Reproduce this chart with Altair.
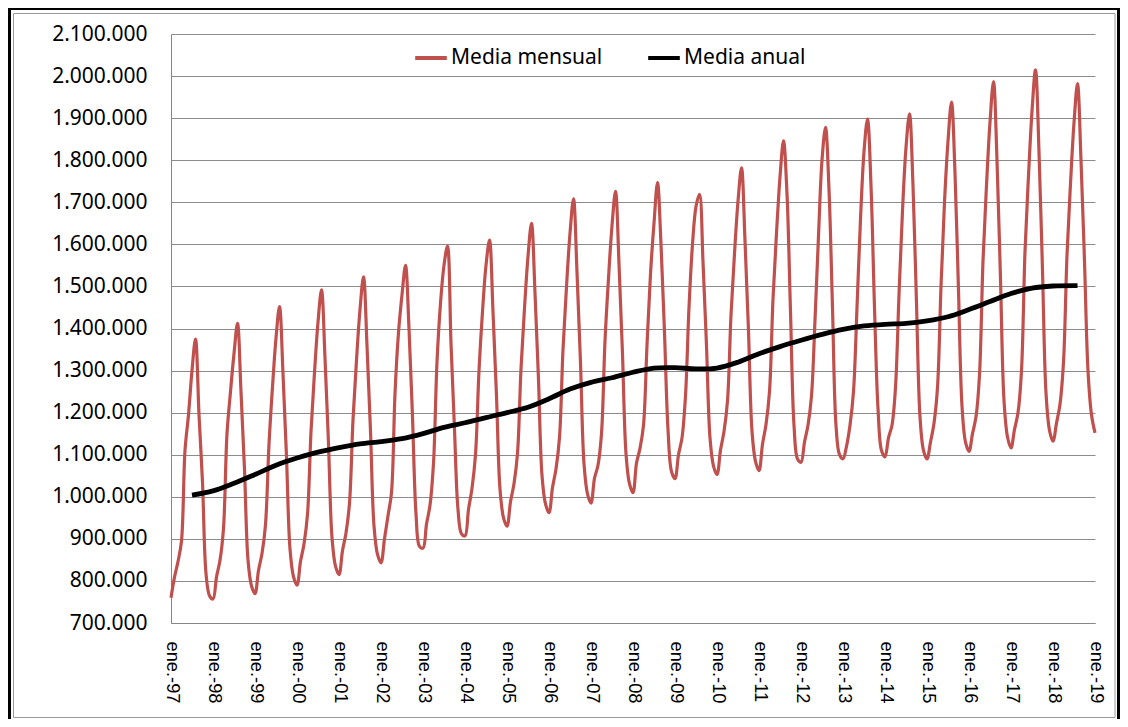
import altair as alt
import pandas as pd

# Monthly values (thousands), Jan-1997 .. Jan-2019, one row per year
media_mensual = [
    760, 809, 846, 895, 1110, 1195, 1300, 1375, 1195, 1035, 818, 765,      # 1997
    757, 809, 849, 925, 1150, 1250, 1340, 1412, 1250, 1065, 850, 788,      # 1998
    770, 825, 865, 934, 1125, 1261, 1377, 1452, 1293, 1095, 876, 810,      # 1999
    790, 846, 888, 958, 1155, 1295, 1415, 1492, 1330, 1126, 903, 835,      # 2000
    815, 872, 914, 985, 1183, 1325, 1445, 1523, 1360, 1156, 931, 863,      # 2001
    843, 900, 955, 1010, 1245, 1390, 1480, 1550, 1400, 1190, 960, 882,     # 2002
    878, 935, 980, 1080, 1320, 1460, 1550, 1596, 1365, 1160, 970, 912,     # 2003
    907, 970, 1020, 1100, 1300, 1440, 1550, 1610, 1440, 1240, 1018, 950,   # 2004
    930, 988, 1031, 1103, 1304, 1448, 1571, 1650, 1485, 1278, 1051, 983,   # 2005
    962, 1022, 1066, 1141, 1350, 1499, 1626, 1708, 1534, 1318, 1079, 1007, # 2006
    985, 1044, 1075, 1150, 1370, 1519, 1644, 1726, 1554, 1339, 1103, 1031, # 2007
    1010, 1080, 1115, 1170, 1360, 1530, 1650, 1747, 1600, 1390, 1160, 1060, # 2008
    1043, 1100, 1140, 1240, 1450, 1600, 1690, 1719, 1559, 1359, 1140, 1073, # 2009
    1053, 1111, 1155, 1228, 1432, 1578, 1702, 1782, 1609, 1393, 1156, 1084, # 2010
    1062, 1125, 1172, 1250, 1470, 1626, 1760, 1846, 1720, 1440, 1170, 1090, # 2011
    1082, 1130, 1170, 1240, 1420, 1620, 1800, 1878, 1730, 1450, 1170, 1100, # 2012
    1090, 1120, 1170, 1250, 1450, 1660, 1820, 1898, 1740, 1450, 1210, 1110, # 2013
    1095, 1140, 1170, 1260, 1480, 1680, 1830, 1910, 1740, 1460, 1190, 1110, # 2014
    1090, 1130, 1175, 1260, 1500, 1700, 1845, 1938, 1770, 1490, 1216, 1130, # 2015
    1108, 1150, 1190, 1290, 1560, 1740, 1890, 1987, 1800, 1517, 1229, 1142, # 2016
    1116, 1160, 1200, 1300, 1583, 1763, 1916, 2015, 1820, 1538, 1247, 1158, # 2017
    1132, 1175, 1220, 1320, 1574, 1744, 1889, 1982, 1800, 1560, 1300, 1195, # 2018
    1152,                                                                   # 2019
]

# Annual (12-month) mean, read every six months (month index from Jan-1997)
media_anual_mes = [6, 12, 18, 24, 30, 36, 42, 48, 54, 60, 66, 72,
                   78, 84, 90, 96, 102, 108, 114, 120, 126, 132, 138, 144,
                   150, 156, 162, 168, 174, 180, 186, 192, 198, 204, 210, 216,
                   222, 228, 234, 240, 246, 252, 259]
media_anual = [
    1004, 1014, 1032, 1053, 1075, 1092, 1106, 1117, 1126, 1131, 1138, 1150,
    1165, 1176, 1188, 1200, 1213, 1233, 1256, 1272, 1283, 1296, 1306, 1307,
    1304, 1306, 1320, 1340, 1357, 1372, 1386, 1398, 1406, 1410, 1412, 1418,
    1428, 1445, 1464, 1483, 1496, 1501, 1502,
]

etiquetas_x = ["ene.-97", "ene.-98", "ene.-99", "ene.-00", "ene.-01", "ene.-02",
               "ene.-03", "ene.-04", "ene.-05", "ene.-06", "ene.-07", "ene.-08",
               "ene.-09", "ene.-10", "ene.-11", "ene.-12", "ene.-13", "ene.-14",
               "ene.-15", "ene.-16", "ene.-17", "ene.-18", "ene.-19"]
ticks_y = list(range(700000, 2100001, 100000))
series = ["Media mensual", "Media anual"]
colores = ["#C0504D", "#000000"]

mensual_df = pd.DataFrame({
    "mes": list(range(len(media_mensual))),
    "valor": [v * 1000 for v in media_mensual],
    "serie": series[0],
})
anual_df = pd.DataFrame({
    "mes": media_anual_mes,
    "valor": [v * 1000 for v in media_anual],
    "serie": series[1],
})

n_last = len(media_mensual) - 1
label_array = "[" + ",".join("'%s'" % s for s in etiquetas_x) + "]"

x_enc = alt.X(
    "mes:Q",
    title=None,
    scale=alt.Scale(domain=[0, n_last], nice=False, zero=False),
    axis=alt.Axis(
        values=list(range(0, n_last + 1, 12)),
        labelExpr=label_array + "[round(datum.value / 12)]",
        labelAngle=90, labelAlign="left", labelBaseline="middle",
        labelPadding=18, labelFont="Liberation Sans", labelFontSize=18.3,
        labelColor="#000000", labelOverlap=False, labelFlush=False,
        tickSize=0, grid=False, domainColor="#868686", domainWidth=1,
    ),
)
y_enc = alt.Y(
    "valor:Q",
    title=None,
    scale=alt.Scale(domain=[700000, 2100000], nice=False, zero=False),
    axis=alt.Axis(
        values=ticks_y,
        labelExpr="replace(format(datum.value, ','), regexp(',', 'g'), '.')",
        labelFont="Noto Sans", labelFontSize=21, labelColor="#000000",
        labelPadding=24, tickSize=0, grid=True, gridColor="#8c8c8c",
        gridWidth=1, domainColor="#868686", domainWidth=1,
    ),
)
color_enc = alt.Color(
    "serie:N",
    scale=alt.Scale(domain=series, range=colores),
    legend=alt.Legend(
        title=None, orient="none", legendX=242, legendY=6,
        direction="horizontal", symbolType="stroke", symbolSize=1000,
        symbolStrokeWidth=4, labelFont="Noto Sans", labelFontSize=21,
        labelColor="#000000", labelOffset=2, columnPadding=37, padding=0,
        labelLimit=300,
    ),
)

mensual = alt.Chart(mensual_df).mark_line(
    interpolate="catmull-rom", strokeWidth=3.2
).encode(x=x_enc, y=y_enc, color=color_enc)

anual = alt.Chart(anual_df).mark_line(
    interpolate="catmull-rom", strokeWidth=4.8
).encode(x=x_enc, y=y_enc, color=color_enc)

marco_datos = alt.Data(values=[{"k": 1}])
marco_negro = alt.Chart(marco_datos).mark_rect(
    filled=False, stroke="#000000", strokeWidth=3
).encode(x=alt.value(-161.5), x2=alt.value(947.5),
         y=alt.value(-25.5), y2=alt.value(720))
marco_gris = alt.Chart(marco_datos).mark_rect(
    filled=False, stroke="#9a9a9a", strokeWidth=1
).encode(x=alt.value(-157.5), x2=alt.value(944),
         y=alt.value(-20.5), y2=alt.value(683.5))

chart = alt.layer(marco_negro, marco_gris, mensual, anual).properties(
    width=924, height=589,
    autosize=alt.AutoSizeParams(type="none"),
    padding={"left": 163, "top": 26, "right": 25, "bottom": 96},
    background="#ffffff",
).configure_view(stroke=None)

chart.save("out.html", embed_options={"renderer": "svg", "actions": False})
